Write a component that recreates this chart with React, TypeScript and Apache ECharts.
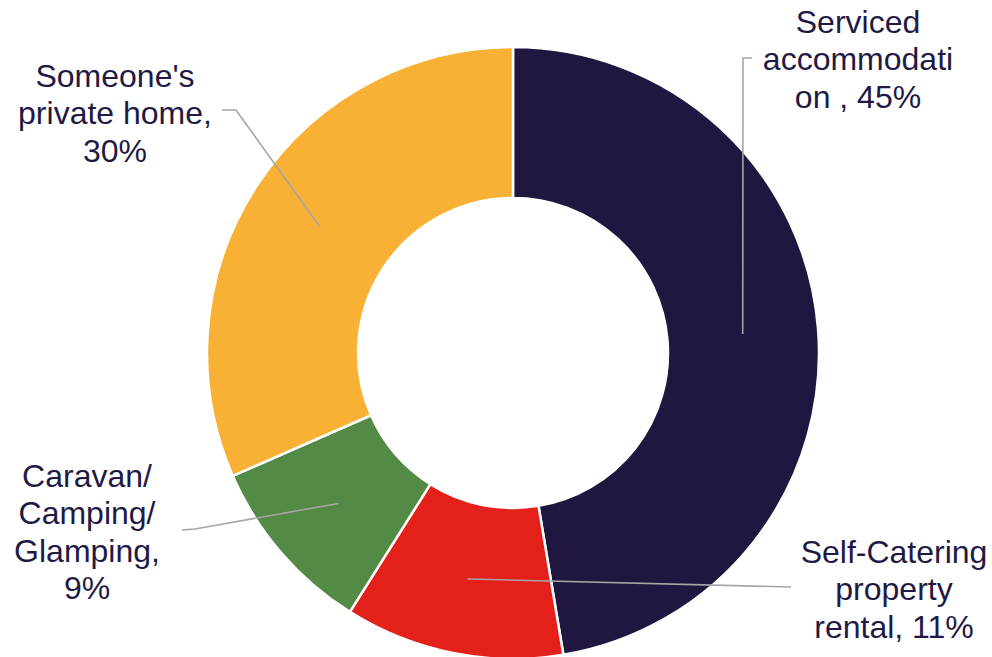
import React, { useEffect, useRef } from 'react';
import * as echarts from 'echarts';

const categories = [
  'Serviced accommodation',
  'Self-Catering property rental',
  'Caravan/ Camping/ Glamping',
  "Someone's private home",
];
const labelTexts = [
  'Serviced\naccommodati\non , 45%',
  'Self-Catering\nproperty\nrental, 11%',
  'Caravan/\nCamping/\nGlamping,\n9%',
  "Someone's\nprivate home,\n30%",
];
const values = [45, 11, 9, 30];
const colors = ['#1f1740', '#e3211a', '#538a45', '#f8b134'];

// layout (pixels)
const CX = 513;
const CY = 353;
const R0 = 155;
const R1 = 306;
const labelPos = [
  [858, 59],
  [894, 589],
  [87, 532],
  [115, 113],
];
const elbows = [
  [743, 58],
  [791, 587],
  [195, 529],
  [236, 110],
];
const ends = [
  [752, 58],
  [791, 587],
  [182, 530],
  [222, 110],
];

function midPoint(i: number): [number, number] {
  const total = values.reduce((a, b) => a + b, 0);
  let cum = 0;
  for (let k = 0; k < i; k++) cum += values[k];
  const theta = (2 * Math.PI * (cum + values[i] / 2)) / total;
  const rm = (R0 + R1) / 2;
  return [CX + rm * Math.sin(theta), CY - rm * Math.cos(theta)];
}

export default function App() {
  const ref = useRef<HTMLDivElement>(null);
  useEffect(() => {
    if (!ref.current) return;
    const chart = echarts.init(ref.current, undefined, { renderer: 'svg' });
    const data = categories.map((name, i) => ({
      name,
      value: values[i],
      itemStyle: { color: colors[i] },
    }));
    chart.setOption({
      animation: false,
      backgroundColor: '#ffffff',
      series: [
        {
          type: 'pie',
          z: 2,
          center: [CX, CY],
          radius: [R0, R1],
          startAngle: 90,
          clockwise: true,
          avoidLabelOverlap: false,
          itemStyle: { borderColor: '#ffffff', borderWidth: 2.5 },
          label: { show: false },
          labelLine: { show: false },
          data,
        },
        {
          type: 'pie',
          z: 5,
          silent: true,
          center: [CX, CY],
          radius: [R0, R1],
          startAngle: 90,
          clockwise: true,
          avoidLabelOverlap: false,
          itemStyle: { color: 'rgba(0,0,0,0)', borderWidth: 0 },
          label: {
            show: true,
            position: 'outside',
            formatter: (p: any) => labelTexts[p.dataIndex],
            fontFamily: '"Liberation Sans", Arial, sans-serif',
            fontSize: 32,
            lineHeight: 37.5,
            color: '#1f1a45',
            align: 'center',
          },
          labelLine: {
            show: true,
            smooth: false,
            lineStyle: { color: '#a6a6a6', width: 1.6 },
          },
          labelLayout: (p: any) => {
            const i = p.dataIndex;
            const s = midPoint(i);
            return {
              x: labelPos[i][0],
              y: labelPos[i][1],
              align: 'center',
              verticalAlign: 'middle',
              labelLinePoints: [s, elbows[i], ends[i]],
            };
          },
          data: data.map((d) => ({ name: d.name, value: d.value })),
        },
      ],
    });
    return () => chart.dispose();
  }, []);
  return (
    <div
      ref={ref}
      style={{ position: 'absolute', left: 0, top: 0, width: 992, height: 657 }}
    />
  );
}
